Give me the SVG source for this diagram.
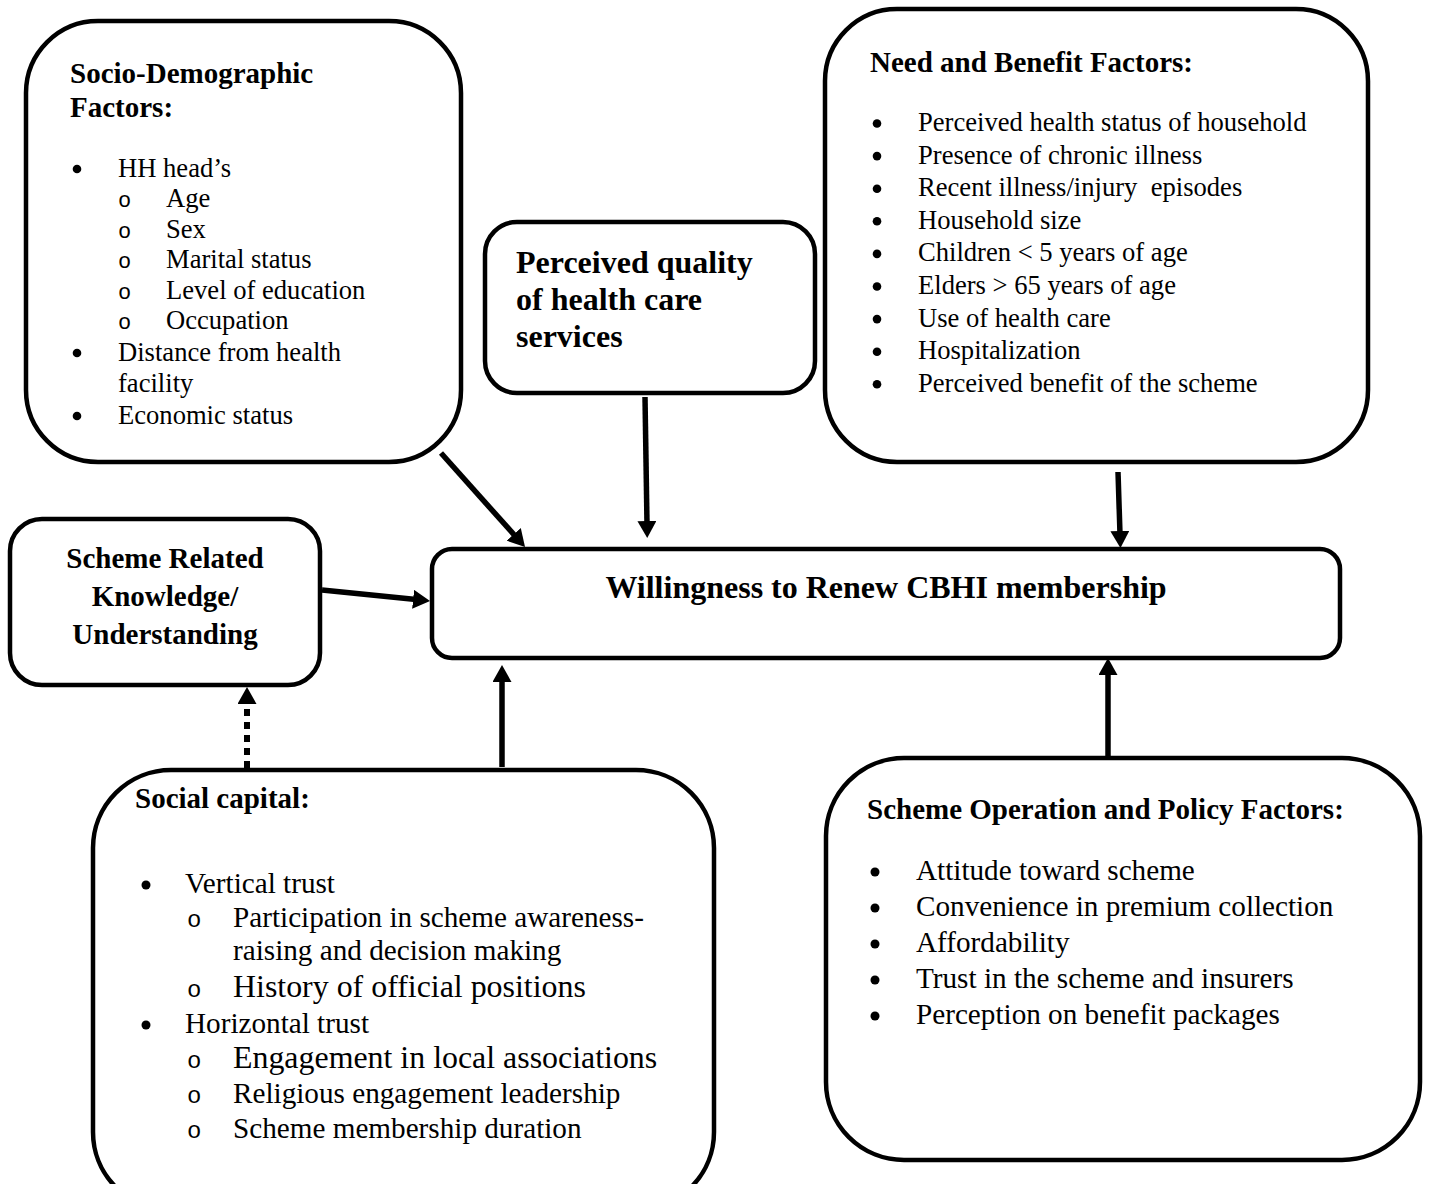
<svg xmlns="http://www.w3.org/2000/svg" width="1432" height="1184" viewBox="0 0 1432 1184">
<style>
.box{fill:#fff;stroke:#000;stroke-width:4.5}
.h{font-family:"Liberation Serif","Times New Roman",serif;font-weight:bold;font-size:29px;fill:#000}
.hb{font-family:"Liberation Serif","Times New Roman",serif;font-weight:bold;font-size:32px;fill:#000}
.t{font-family:"Liberation Serif","Times New Roman",serif;font-size:26.6px;fill:#000;white-space:pre}
.s{font-family:"Liberation Serif","Times New Roman",serif;font-size:29.2px;fill:#000}
.sl{font-family:"Liberation Serif","Times New Roman",serif;font-size:31.9px;fill:#000}
.o{font-family:"Liberation Mono","Courier New",monospace;fill:#000}
.c{text-anchor:middle}
.b{fill:#000}
.ln{stroke:#000;stroke-width:5.5;fill:none}
.dot{stroke:#000;stroke-width:6;fill:none;stroke-dasharray:7 6}
</style>
<defs>
<marker id="ah" markerUnits="userSpaceOnUse" markerWidth="18" markerHeight="19" refX="3" refY="9.5" orient="auto" viewBox="0 0 18 19">
<path d="M0,0 L17,9.5 L0,19 z" fill="#000"/>
</marker>
</defs>

<g id="socio">
<rect class="box" x="26" y="21" width="435" height="441" rx="72" ry="72"/>
<text class="h" x="70" y="83">Socio-Demographic</text>
<text class="h" x="70" y="117">Factors:</text>
<circle class="b" cx="77" cy="169" r="4.3"/><text class="t" x="118" y="177">HH head’s</text>
<text class="o" x="118" y="207" font-size="22">o</text><text class="t" x="166" y="207">Age</text>
<text class="o" x="118" y="238" font-size="22">o</text><text class="t" x="166" y="238">Sex</text>
<text class="o" x="118" y="268" font-size="22">o</text><text class="t" x="166" y="268">Marital status</text>
<text class="o" x="118" y="299" font-size="22">o</text><text class="t" x="166" y="299">Level of education</text>
<text class="o" x="118" y="329" font-size="22">o</text><text class="t" x="166" y="329">Occupation</text>
<circle class="b" cx="77" cy="353" r="4.3"/><text class="t" x="118" y="361">Distance from health</text>
<text class="t" x="118" y="392">facility</text>
<circle class="b" cx="77" cy="416" r="4.3"/><text class="t" x="118" y="424">Economic status</text>
</g>

<g id="quality">
<rect class="box" x="485" y="222" width="330" height="171" rx="32" ry="32"/>
<text class="hb" x="516" y="273">Perceived quality</text>
<text class="hb" x="516" y="310">of health care</text>
<text class="hb" x="516" y="347">services</text>
</g>

<g id="need">
<rect class="box" x="825" y="9" width="543" height="453" rx="72" ry="72"/>
<text class="h" x="870" y="72">Need and Benefit Factors:</text>
<circle class="b" cx="877" cy="123.5" r="4.3"/><text class="t" x="918" y="131">Perceived health status of household</text>
<circle class="b" cx="877" cy="156.1" r="4.3"/><text class="t" x="918" y="163.6">Presence of chronic illness</text>
<circle class="b" cx="877" cy="188.7" r="4.3"/><text class="t" x="918" y="196.2">Recent illness/injury  episodes</text>
<circle class="b" cx="877" cy="221.3" r="4.3"/><text class="t" x="918" y="228.8">Household size</text>
<circle class="b" cx="877" cy="253.9" r="4.3"/><text class="t" x="918" y="261.4">Children &lt; 5 years of age</text>
<circle class="b" cx="877" cy="286.5" r="4.3"/><text class="t" x="918" y="294">Elders &gt; 65 years of age</text>
<circle class="b" cx="877" cy="319.1" r="4.3"/><text class="t" x="918" y="326.6">Use of health care</text>
<circle class="b" cx="877" cy="351.7" r="4.3"/><text class="t" x="918" y="359.2">Hospitalization</text>
<circle class="b" cx="877" cy="384.3" r="4.3"/><text class="t" x="918" y="391.8">Perceived benefit of the scheme</text>
</g>

<g id="knowledge">
<rect class="box" x="10" y="519" width="310" height="166" rx="32" ry="32"/>
<text class="h c" x="165" y="568">Scheme Related</text>
<text class="h c" x="165" y="606">Knowledge/</text>
<text class="h c" x="165" y="644">Understanding</text>
</g>

<g id="willingness">
<rect class="box" x="432" y="549" width="908" height="109" rx="20" ry="20"/>
<text class="hb c" x="886" y="598">Willingness to Renew CBHI membership</text>
</g>

<g id="social">
<rect class="box" x="93" y="770" width="621" height="440" rx="78" ry="78"/>
<text class="h" x="135" y="808">Social capital:</text>
<circle class="b" cx="146" cy="885" r="4.5"/><text class="s" x="185" y="893">Vertical trust</text>
<text class="o" x="187" y="927" font-size="24">o</text><text class="s" x="233" y="927">Participation in scheme awareness-</text>
<text class="s" x="233" y="960">raising and decision making</text>
<text class="o" x="187" y="997" font-size="24">o</text><text class="sl" x="233" y="997">History of official positions</text>
<circle class="b" cx="146" cy="1025" r="4.5"/><text class="s" x="185" y="1033">Horizontal trust</text>
<text class="o" x="187" y="1068" font-size="24">o</text><text class="sl" x="233" y="1068">Engagement in local associations</text>
<text class="o" x="187" y="1103" font-size="24">o</text><text class="s" x="233" y="1103">Religious engagement leadership</text>
<text class="o" x="187" y="1138" font-size="24">o</text><text class="s" x="233" y="1138">Scheme membership duration</text>
</g>

<g id="operation">
<rect class="box" x="826" y="758" width="594" height="402" rx="78" ry="78"/>
<text class="h" x="867" y="819">Scheme Operation and Policy Factors:</text>
<circle class="b" cx="875" cy="872" r="4.5"/><text class="s" x="916" y="880">Attitude toward scheme</text>
<circle class="b" cx="875" cy="908" r="4.5"/><text class="s" x="916" y="916">Convenience in premium collection</text>
<circle class="b" cx="875" cy="944" r="4.5"/><text class="s" x="916" y="952">Affordability</text>
<circle class="b" cx="875" cy="980" r="4.5"/><text class="s" x="916" y="988">Trust in the scheme and insurers</text>
<circle class="b" cx="875" cy="1016" r="4.5"/><text class="s" x="916" y="1024">Perception on benefit packages</text>
</g>

<g id="connectors">
<line class="ln" x1="441" y1="453" x2="515.7" y2="536.6" marker-end="url(#ah)"/>
<line class="ln" x1="645" y1="397" x2="647" y2="524" marker-end="url(#ah)"/>
<line class="ln" x1="1118" y1="472" x2="1120" y2="534" marker-end="url(#ah)"/>
<line class="ln" x1="322" y1="590" x2="416.1" y2="599.6" marker-end="url(#ah)"/>
<line class="ln" x1="502" y1="767" x2="502" y2="679" marker-end="url(#ah)"/>
<line class="ln" x1="1108" y1="757" x2="1108" y2="672" marker-end="url(#ah)"/>
<line class="dot" x1="247" y1="768" x2="247" y2="701" marker-end="url(#ah)"/>
</g>
</svg>
